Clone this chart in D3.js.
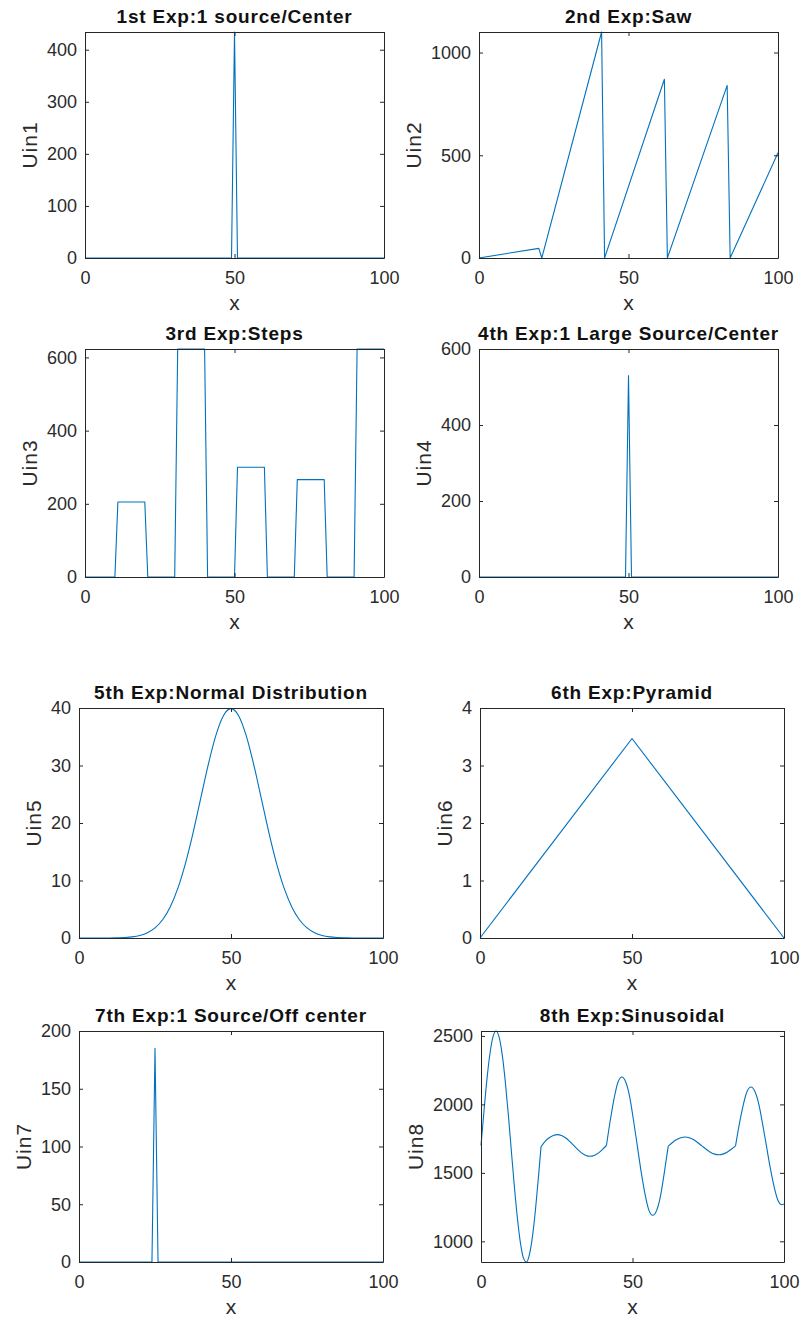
<!DOCTYPE html>
<html>
<head>
<meta charset="utf-8">
<script src="https://cdn.jsdelivr.net/npm/d3@7"></script>
<style>
  body { margin: 0; background: #fff; }
  svg { display: block; }
  text { font-family: "Liberation Sans", Arial, Helvetica, sans-serif; }
</style>
</head>
<body>
<svg id="fig" width="803" height="1319"></svg>
<script>
// ---- data -------------------------------------------------------------
const titles = [
  "1st Exp:1 source/Center",
  "2nd Exp:Saw",
  "3rd Exp:Steps",
  "4th Exp:1 Large Source/Center",
  "5th Exp:Normal Distribution",
  "6th Exp:Pyramid",
  "7th Exp:1 Source/Off center",
  "8th Exp:Sinusoidal"
];
const yLabels = ["Uin1", "Uin2", "Uin3", "Uin4", "Uin5", "Uin6", "Uin7", "Uin8"];
const xLabel = "x";
const xDomain = [0, 100];
const xTicks = [0, 50, 100];
const yDomains = [[0, 434], [0, 1100], [0, 623], [0, 600], [0, 40], [0, 4], [0, 200], [849, 2536]];
const yTicks = [
  [0, 100, 200, 300, 400],
  [0, 500, 1000],
  [0, 200, 400, 600],
  [0, 200, 400, 600],
  [0, 10, 20, 30, 40],
  [0, 1, 2, 3, 4],
  [0, 50, 100, 150, 200],
  [1000, 1500, 2000, 2500]
];

// each series is a list of [x, U] samples
const uin1 = [[0, 0], [49, 0], [50, 434], [51, 0], [100, 0]];
const uin2 = [[0, 0], [20, 47], [21, 0], [41, 1100], [42, 0], [62, 870], [63, 0],
              [83, 840], [84, 0], [100, 512]];
const uin3 = [[0, 0], [10, 0], [11, 205], [20, 205], [21, 0], [30, 0], [31, 623], [40, 623],
              [41, 0], [50, 0], [51, 300], [60, 300], [61, 0], [70, 0], [71, 266], [80, 266],
              [81, 0], [90, 0], [91, 623], [100, 623]];
const uin4 = [[0, 0], [49, 0], [50, 530], [51, 0], [100, 0]];
const uin5 = [[0, 0], [2.5, 0], [5, 0], [7.5, 0], [10, 0.01], [12.5, 0.04], [15, 0.09],
              [17.5, 0.2], [20, 0.44], [22.5, 0.91], [25, 1.75], [27.5, 3.17], [30, 5.4],
              [32.5, 8.63], [35, 12.95], [37.5, 18.26], [40, 24.2], [42.5, 30.11], [45, 35.21],
              [47.5, 38.67], [50, 39.89], [52.5, 38.67], [55, 35.21], [57.5, 30.11], [60, 24.2],
              [62.5, 18.26], [65, 12.95], [67.5, 8.63], [70, 5.4], [72.5, 3.17], [75, 1.75],
              [77.5, 0.91], [80, 0.44], [82.5, 0.2], [85, 0.09], [87.5, 0.04], [90, 0.01],
              [92.5, 0], [95, 0], [97.5, 0], [100, 0]];
const uin6 = [[0, 0], [50, 3.47], [100, 0]];
const uin7 = [[0, 0], [24, 0], [25, 185], [26, 0], [100, 0]];
// the sinusoidal input is made of smooth pieces that meet at sharp corners
const uin8a = [[0, 1700], [1, 1955], [2, 2192], [3, 2379], [4, 2497], [5, 2536], [6, 2489],
               [7, 2363], [8, 2170], [9, 1930], [10, 1665], [11, 1404], [12, 1172], [13, 991],
               [14, 879], [15, 849], [16, 905], [17, 1038], [18, 1236], [19, 1480], [19.8, 1690]];
const uin8b = [[19.8, 1690], [21.15, 1730], [22.5, 1756], [23.85, 1773], [25.2, 1779],
               [26.55, 1773], [27.9, 1756], [29.25, 1730], [30.6, 1700], [31.95, 1670],
               [33.3, 1644], [34.65, 1627], [36, 1621], [37.35, 1627], [38.7, 1644],
               [40.05, 1670], [41.4, 1700]];
const uin8c = [[41.4, 1700], [42.7, 1888], [44, 2052], [45.2, 2162], [46.5, 2200], [47.8, 2162],
               [49.1, 2052], [50.3, 1888], [51.6, 1695], [52.9, 1502], [54.2, 1338], [55.4, 1228],
               [56.7, 1190], [58, 1228], [59.3, 1338], [60.5, 1502], [61.8, 1695]];
const uin8d = [[61.8, 1695], [63.2, 1722], [64.6, 1743], [65.9, 1757], [67.4, 1762], [68.7, 1757],
               [70.1, 1743], [71.5, 1722], [72.9, 1697], [74.3, 1672], [75.7, 1651], [77.1, 1637],
               [78.5, 1632], [79.8, 1637], [81.2, 1651], [82.6, 1672], [84, 1697]];
const uin8e = [[84, 1697], [85.3, 1862], [86.6, 2001], [87.8, 2094], [89.1, 2127], [90.4, 2094],
               [91.7, 2001], [92.9, 1862], [94.2, 1697], [95.5, 1532], [96.8, 1393], [98, 1300],
               [99.3, 1267], [100, 1272]];

// series per panel; smooth ones are drawn as monotone curves
const panelSeries = [
  { pieces: [uin1], smooth: false },
  { pieces: [uin2], smooth: false },
  { pieces: [uin3], smooth: false },
  { pieces: [uin4], smooth: false },
  { pieces: [uin5], smooth: true },
  { pieces: [uin6], smooth: false },
  { pieces: [uin7], smooth: false },
  { pieces: [uin8a, uin8b, uin8c, uin8d, uin8e], smooth: true }
];

// ---- layout -------------------------------------------------------------
const frames = [
  { l: 85,  r: 384, t: 32,   b: 258 },
  { l: 479, r: 778, t: 32,   b: 258 },
  { l: 85,  r: 384, t: 349,  b: 577 },
  { l: 479, r: 778, t: 349,  b: 577 },
  { l: 79,  r: 383, t: 708,  b: 938 },
  { l: 480, r: 784, t: 708,  b: 938 },
  { l: 79,  r: 383, t: 1031, b: 1262 },
  { l: 481, r: 784, t: 1031, b: 1262 }
];

const AXIS = "#262626";
const LINE = "#0072BD";
const TICK_FONT = 18;
const LABEL_FONT = 21;
const TITLE_FONT = 19;
const TICK_IN = 4;
const fmt = d => String(d);

const svg = d3.select("#fig");
svg.append("rect").attr("width", 803).attr("height", 1319).attr("fill", "#fff");
const defs = svg.append("defs");

frames.forEach((f, i) => {
  const w = f.r - f.l, h = f.b - f.t;
  const g = svg.append("g").attr("transform", `translate(${f.l},${f.t})`);

  const x = d3.scaleLinear().domain(xDomain).range([0, w]);
  const y = d3.scaleLinear().domain(yDomains[i]).range([h, 0]);

  defs.append("clipPath").attr("id", "clip" + i)
    .append("rect").attr("x", -1).attr("y", -1).attr("width", w + 2).attr("height", h + 2);

  // data line(s)
  const line = d3.line()
    .x(d => x(d[0]))
    .y(d => y(d[1]))
    .curve(panelSeries[i].smooth ? d3.curveMonotoneX : d3.curveLinear);
  const lines = g.append("g").attr("clip-path", `url(#clip${i})`);
  panelSeries[i].pieces.forEach(p => {
    lines.append("path")
      .attr("d", line(p))
      .attr("fill", "none")
      .attr("stroke", LINE)
      .attr("stroke-width", 1.1)
      .attr("stroke-linejoin", "round");
  });

  // axes: labelled left/bottom, mirrored ticks on right/top, ticks pointing inward
  const styleAxis = sel => {
    sel.selectAll(".domain").attr("stroke", AXIS).attr("stroke-width", 1);
    sel.selectAll(".tick line").attr("stroke", AXIS).attr("stroke-width", 1);
    sel.selectAll(".tick text").attr("fill", "#2b2b2b")
      .style("font-size", TICK_FONT + "px")
      .style("font-family", '"Liberation Sans", Arial, sans-serif');
  };

  const left = g.append("g")
    .call(d3.axisLeft(y).tickValues(yTicks[i]).tickFormat(fmt)
      .tickSizeInner(-TICK_IN).tickSizeOuter(0).tickPadding(8))
    .call(styleAxis);
  g.append("g").attr("transform", `translate(${w},0)`)
    .call(d3.axisRight(y).tickValues(yTicks[i]).tickSizeInner(-TICK_IN).tickSizeOuter(0).tickFormat(""))
    .call(styleAxis);
  g.append("g").attr("transform", `translate(0,${h})`)
    .call(d3.axisBottom(x).tickValues(xTicks).tickFormat(fmt)
      .tickSizeInner(-TICK_IN).tickSizeOuter(0).tickPadding(13))
    .call(styleAxis);
  g.append("g")
    .call(d3.axisTop(x).tickValues(xTicks).tickSizeInner(-TICK_IN).tickSizeOuter(0).tickFormat(""))
    .call(styleAxis);

  // title
  g.append("text")
    .attr("x", w / 2).attr("y", -9)
    .attr("text-anchor", "middle")
    .style("font-size", TITLE_FONT + "px")
    .style("font-weight", "bold")
    .style("letter-spacing", "0.8px")
    .attr("fill", "#111")
    .text(titles[i]);

  // x label
  g.append("text")
    .attr("x", w / 2).attr("y", h + 52)
    .attr("text-anchor", "middle")
    .style("font-size", LABEL_FONT + "px")
    .attr("fill", "#2b2b2b")
    .text(xLabel);

  // y label placed just outside the widest tick label
  let maxW = 0;
  left.selectAll(".tick text").each(function () {
    maxW = Math.max(maxW, this.getComputedTextLength());
  });
  const yl = -(8 + maxW + 10);
  g.append("text")
    .attr("transform", `translate(${yl},${h / 2}) rotate(-90)`)
    .attr("text-anchor", "middle")
    .style("font-size", LABEL_FONT + "px")
    .style("letter-spacing", "1px")
    .attr("fill", "#2b2b2b")
    .text(yLabels[i]);
});
</script>
</body>
</html>
